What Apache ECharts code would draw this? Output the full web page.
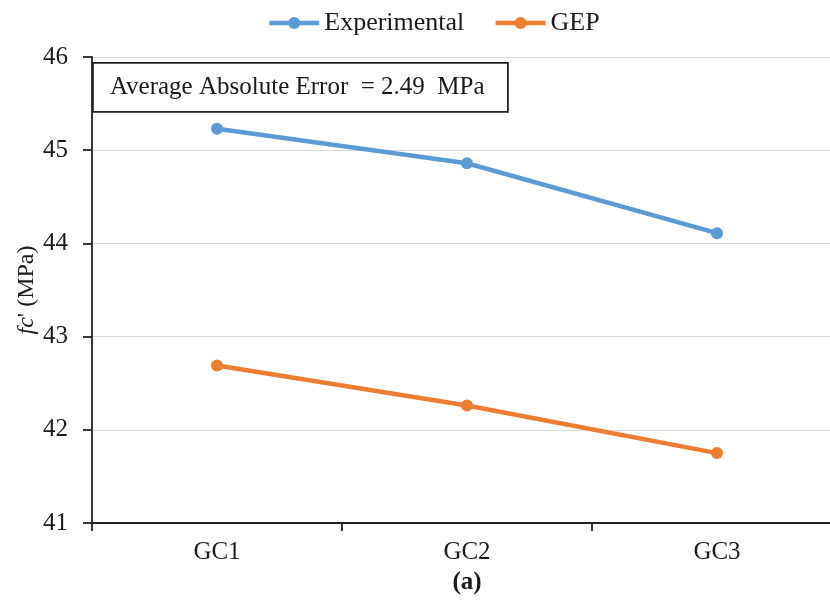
<!DOCTYPE html>
<html>
<head>
<meta charset="utf-8">
<script src="https://cdn.jsdelivr.net/npm/echarts@6/dist/echarts.min.js"></script>
<style>
  html, body { margin: 0; padding: 0; background: #fff; overflow: hidden; }
  #chart { width: 842px; height: 601px; }
</style>
</head>
<body>
<div id="chart"></div>
<script>
// Mix categories and compressive strength values (MPa)
const categories = ['GC1', 'GC2', 'GC3'];
const experimental = [45.23, 44.86, 44.11];
const gep = [42.69, 42.26, 41.75];
const yTicks = [41, 42, 43, 44, 45, 46];
const annotation = 'Average Absolute Error  = 2.49  MPa';

const serif = '"Liberation Serif", "DejaVu Serif", serif';
const ink = '#1a1a1a';
const chart = echarts.init(document.getElementById('chart'));

chart.setOption({
  animation: false,
  textStyle: { fontFamily: serif },
  legend: {
    top: 5,
    left: 262,
    itemWidth: 50,
    itemHeight: 15,
    itemGap: 29,
    lineStyle: { width: 4.5 },
    textStyle: { fontFamily: serif, fontSize: 26, color: ink },
    data: ['Experimental', 'GEP']
  },
  grid: { left: 92, right: 0, top: 57, bottom: 78 },
  xAxis: {
    type: 'category',
    data: categories,
    boundaryGap: true,
    axisLine: { lineStyle: { color: '#222', width: 1.8 } },
    axisTick: { show: true, length: 8, lineStyle: { color: '#222', width: 1.8 } },
    axisLabel: { fontFamily: serif, fontSize: 25, color: ink, margin: 17 },
    name: '(a)',
    nameLocation: 'middle',
    nameGap: 44,
    nameTextStyle: { fontFamily: serif, fontSize: 25, fontWeight: 'bold', color: ink }
  },
  yAxis: {
    type: 'value',
    min: yTicks[0],
    max: yTicks[yTicks.length - 1],
    interval: 1,
    axisLine: { show: true, lineStyle: { color: '#222', width: 1.8 } },
    axisTick: { show: true, length: 9, lineStyle: { color: '#222', width: 1.8 } },
    splitLine: { show: true, lineStyle: { color: '#d9d9d9', width: 1 } },
    axisLabel: { fontFamily: serif, fontSize: 25, color: ink, margin: 24 },
    name: '{i|fc}\' (MPa)',
    nameLocation: 'middle',
    nameGap: 53,
    nameMoveOverlap: false,
    nameRotate: 90,
    nameTextStyle: {
      fontFamily: serif, fontSize: 24, color: ink,
      rich: { i: { fontFamily: serif, fontSize: 24, fontStyle: 'italic', color: ink } }
    }
  },
  graphic: [{
    type: 'group',
    left: 92,
    top: 62,
    children: [
      { type: 'rect', shape: { x: 0, y: 0, width: 415, height: 49 },
        style: { fill: '#fff', stroke: '#222', lineWidth: 1.8 } },
      { type: 'text', x: 17, y: 25,
        style: { text: annotation, font: '25px ' + serif, fill: ink, textVerticalAlign: 'middle' } }
    ]
  }],
  series: [
    {
      name: 'Experimental',
      type: 'line',
      data: experimental,
      color: '#5B9BD5',
      lineStyle: { width: 4.5 },
      symbol: 'circle',
      symbolSize: 12,
      z: 3
    },
    {
      name: 'GEP',
      type: 'line',
      data: gep,
      color: '#ED7D31',
      lineStyle: { width: 4.5 },
      symbol: 'circle',
      symbolSize: 12,
      z: 3
    }
  ]
});
</script>
</body>
</html>
